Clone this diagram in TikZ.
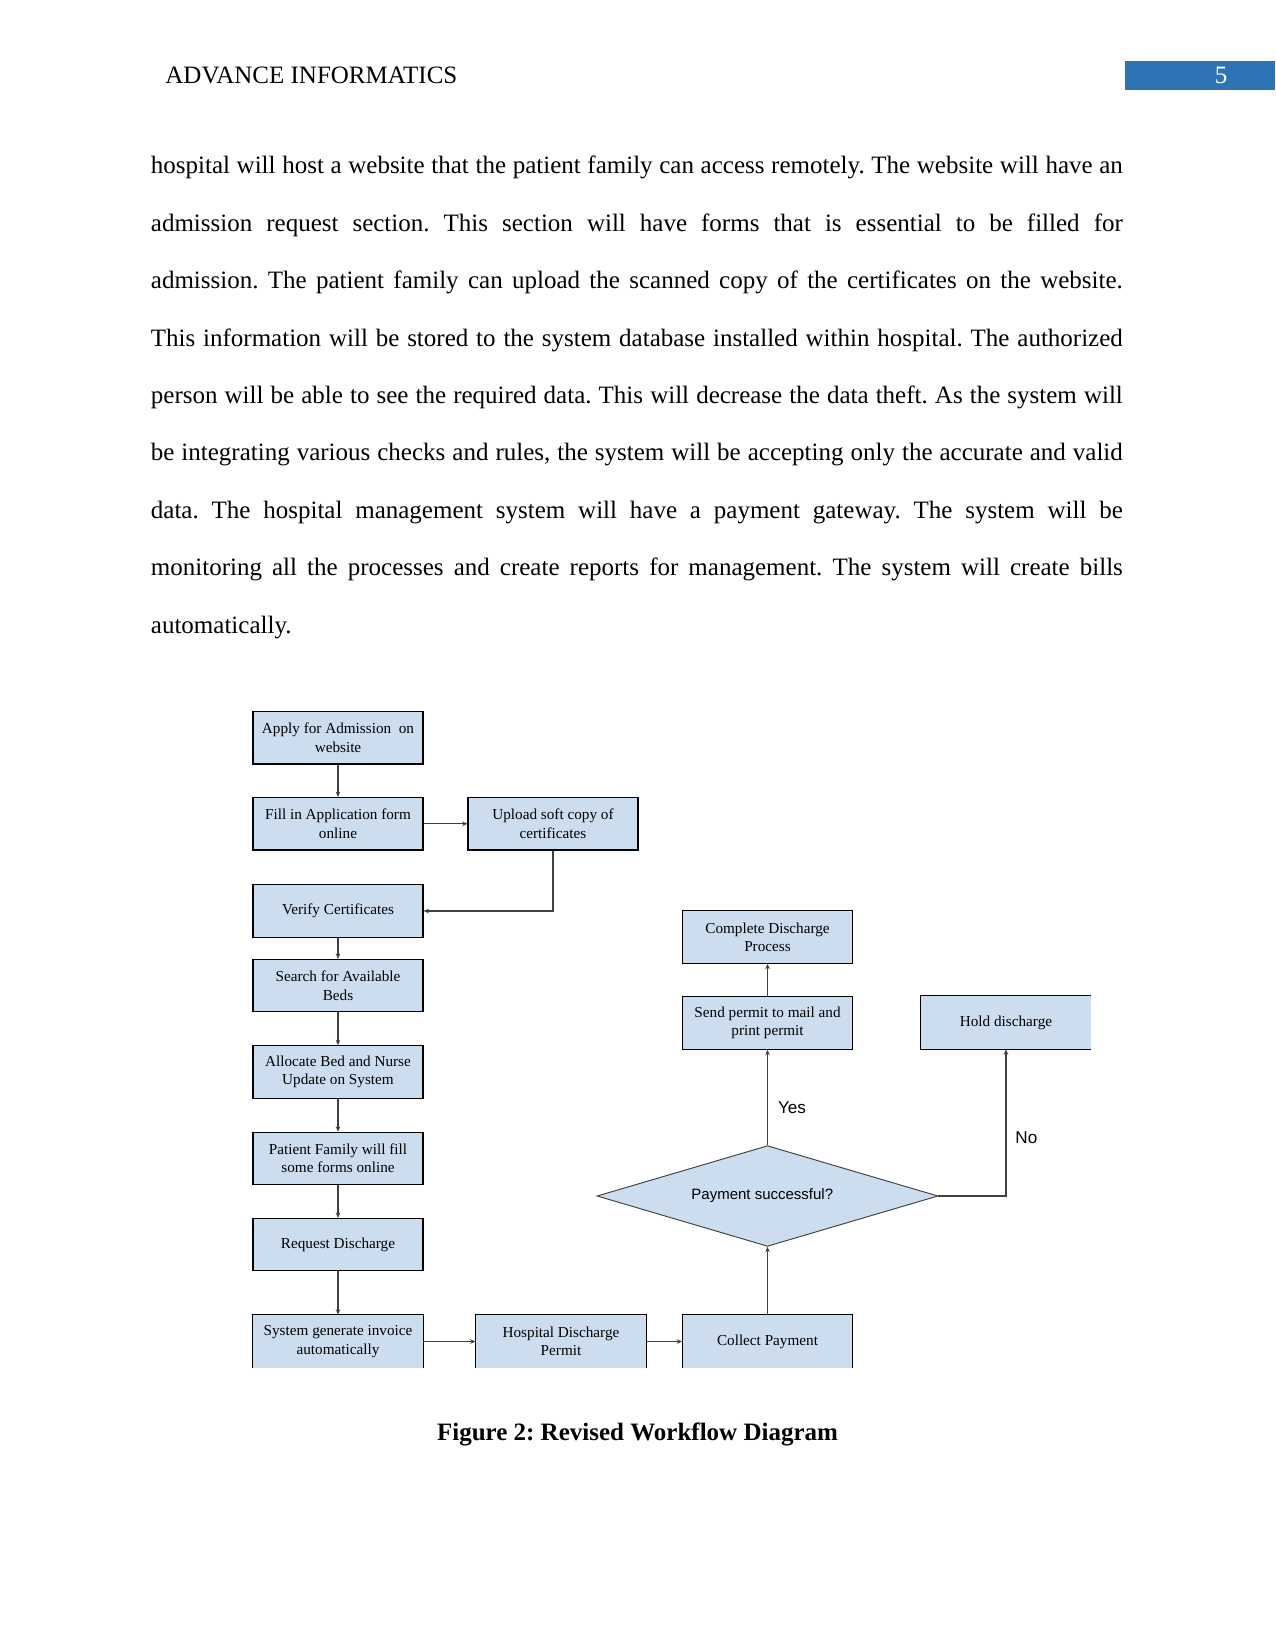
\documentclass[tikz,border=0pt]{standalone}
\usepackage{fontspec}
\setmainfont{Liberation Serif}
\newfontfamily\arialfont{Liberation Sans}
\usetikzlibrary{arrows.meta,shapes.geometric}
\definecolor{boxblue}{RGB}{204,221,240}
\definecolor{headblue}{RGB}{46,116,181}
\begin{document}
\frenchspacing
\begin{tikzpicture}[x=0.48pt,y=-0.48pt,
  boxfont/.style={font=\fontsize{7.3}{8.8}\selectfont},
  flow/.style={draw=black, line width=0.5pt, fill=boxblue, minimum width=170*0.48pt,
    minimum height=52.5*0.48pt, inner sep=1pt, align=center, boxfont},
  cutbox/.style={fill=boxblue, minimum width=170*0.48pt, minimum height=53*0.48pt,
    inner sep=1pt, align=center, boxfont},
  boxline/.style={draw=black, line width=0.5pt},
  decision/.style={shape=diamond, draw=black!75, line width=0.45pt, fill=boxblue,
    shape aspect=3.39, minimum width=341*0.48pt, minimum height=100.7*0.48pt, inner sep=0pt,
    font=\arialfont\fontsize{7.2}{8.6}\selectfont},
  arr/.style={draw=black!75, line width=0.5pt, -{Stealth[length=2.6pt,width=2.2pt]}},
  lab/.style={anchor=west, inner sep=0pt, font=\arialfont\fontsize{8.2}{10}\selectfont},
]
\useasboundingbox (0,0) rectangle (1275,1650);

% header
\node[anchor=base west, inner sep=0pt, font=\fontsize{12}{14}\selectfont] (head) at (165,84) {ADVANCE INFORMATICS};
\node[fill=headblue, anchor=north west, inner sep=0pt, minimum width=150.4*0.48pt, minimum height=28.4*0.48pt] (pgbox) at (1124.6,61) {};
\node[anchor=base, inner sep=0pt, text=white, font=\fontsize{12}{14}\selectfont] (pgnum) at (1221,84) {5};

% body text
\node[anchor=base west, inner sep=0pt] (body) at (150.5,174) {\parbox[t]{466.5pt}{\fontsize{12}{27.55}\selectfont\frenchspacing\hyphenpenalty=10000\tolerance=10000\parindent=0pt
hospital will host a website that the patient family can access remotely. The website will have an\linebreak
admission request section. This section will have forms that is essential to be filled for\linebreak
admission. The patient family can upload the scanned copy of the certificates on the website.\linebreak
This information will be stored to the system database installed within hospital. The authorized\linebreak
person will be able to see the required data. This will decrease the data theft. As the system will\linebreak
be integrating various checks and rules, the system will be accepting only the accurate and valid\linebreak
data. The hospital management system will have a payment gateway. The system will be\linebreak
monitoring all the processes and create reports for management. The system will create bills\linebreak
automatically.}};

% left column
\node[flow] (apply) at (338,737.75) {Apply for Admission\ \ on\\website};
\node[flow] (fill) at (338,823.75) {Fill in Application form\\online};
\node[flow] (upload) at (553,823.75) {Upload soft copy of\\certificates};
\node[flow] (verify) at (338,911) {Verify Certificates};
\node[flow] (search) at (338,985.6) {Search for Available\\Beds};
\node[flow] (alloc) at (338,1072) {Allocate Bed and Nurse\\Update on System};
\node[flow] (family) at (338,1158.5) {Patient Family will fill\\some forms online};
\node[flow] (request) at (338,1244.6) {Request Discharge};
\node[cutbox] (invoice) at (338,1341.5) {System generate invoice\\automatically};
\node[cutbox] (permit) at (561,1341.5) {Hospital Discharge\\Permit};
\node[cutbox] (collect) at (767.5,1341.5) {Collect Payment};
\foreach \n in {invoice,permit,collect}
  \draw[boxline] (\n.south west) -- (\n.north west) -- (\n.north east) -- (\n.south east);

% right part
\node[flow] (complete) at (767.5,937) {Complete Discharge\\Process};
\node[flow] (send) at (767.5,1023) {Send permit to mail and\\print permit};
\node[cutbox] (hold) at (1006,1022.5) {Hold discharge};
\draw[boxline] (hold.north east) -- (hold.north west) -- (hold.south west) -- (hold.south east);
\node[decision] (pay) at (767.5,1196) {\raisebox{-1.5pt}{Payment successful?}\hspace*{5pt}};

% connectors
\draw[arr] (apply) -- (fill);
\draw[arr] (fill) -- (upload);
\draw[arr] (upload.south) |- (verify.east);
\draw[arr] (verify) -- (search);
\draw[arr] (search) -- (alloc);
\draw[arr] (alloc) -- (family);
\draw[arr] (family) -- (request);
\draw[arr] (request) -- (invoice);
\draw[arr] (invoice) -- (permit);
\draw[arr] (permit) -- (collect);
\draw[arr] (collect) -- (pay);
\draw[arr] (pay) -- (send);
\draw[arr] (send) -- (complete);
\draw[arr] (pay.east) -| (hold.south);
\node[lab] (yes) at (777.7,1108) {Yes};
\node[lab] (no) at (1015,1138) {No};

% caption
\node[anchor=base, inner sep=0pt, font=\bfseries\fontsize{12}{14}\selectfont] (cap) at (637.5,1440) {\frenchspacing Figure 2: Revised Workflow Diagram};
\end{tikzpicture}
\end{document}
